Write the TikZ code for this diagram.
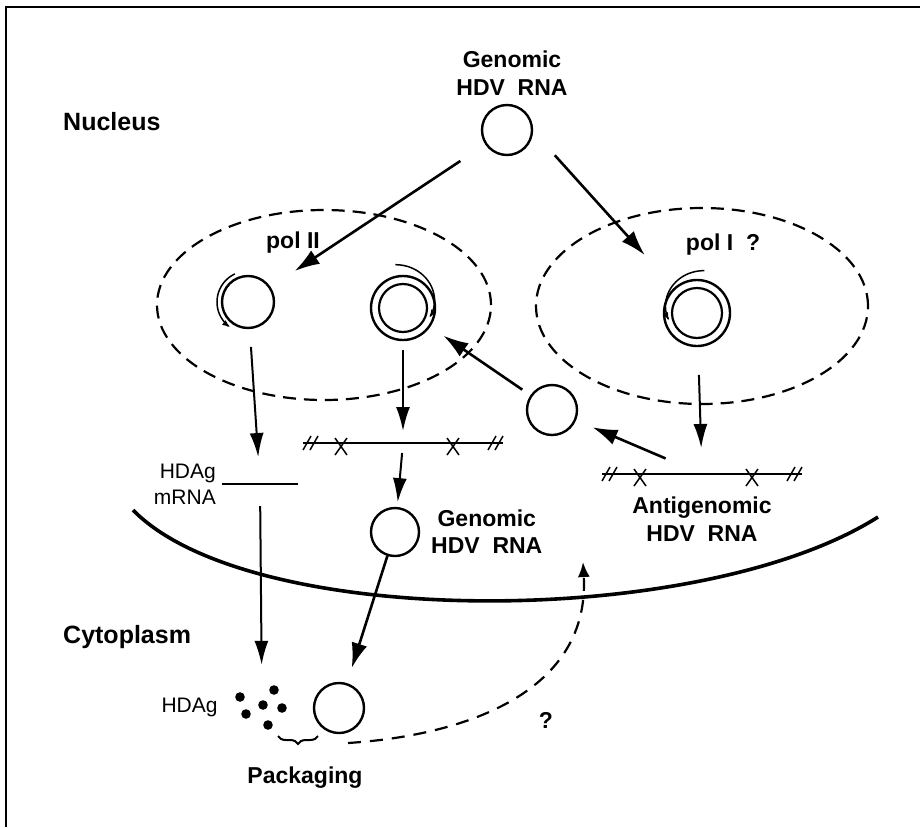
\documentclass[tikz,border=0pt]{standalone}
\usepackage{fontspec}
\setmainfont{Liberation Sans}
\usetikzlibrary{arrows.meta,positioning,calc,shapes.geometric,decorations.pathreplacing}
\tikzset{
 rna/.style={draw, circle, line width=2.4pt, minimum size=#1, inner sep=0pt, outer sep=0pt},
 rna/.default=50pt,
 zone/.style={draw, ellipse, line width=2.2pt, dash pattern=on 13pt off 8pt, inner sep=0pt},
 lbl/.style={font=\fontsize{23}{28}\selectfont\bfseries, align=center, inner sep=0pt},
 thinlbl/.style={font=\fontsize{21}{26}\selectfont, align=right, inner sep=0pt},
 region/.style={font=\fontsize{25}{30}\selectfont\bfseries, anchor=west, inner sep=0pt},
 linear/.style={minimum width=200pt, minimum height=2pt, inner sep=0pt, outer sep=0pt},
 strand/.style={line width=1.5pt},
 arrow/.style={-{Latex[length=25pt,width=16pt]}, line width=2.6pt},
 thinarrow/.style={-{Latex[length=24pt,width=14pt]}, line width=2pt},
 spin/.style={-{Latex[length=8pt,width=6pt]}, line width=1.5pt},
 membrane/.style={line width=3.6pt},
 backarrow/.style={-{Latex[length=15pt,width=12pt]}, line width=2.2pt, dash pattern=on 13pt off 9pt}
}
\newcommand{\rnamarks}[1]{%
 \draw[strand] (#1.west) -- (#1.east);
 \foreach \d in {4,11,189,196}
  \draw[strand] ($(#1.west)+(\d,0)$) +(-4,7) -- +(4,-7);
 \foreach \d in {38,150}
  \draw[strand] ($(#1.west)+(\d,0)$) +(-6,-5) -- +(6,12) +(6,-5) -- +(-6,12);
}

\begin{document}
\begin{tikzpicture}[x=1pt,y=-1pt]
\useasboundingbox (0,0) rectangle (920,827);
\draw[line width=1.8pt] (6,827) -- (6,7) -- (920,7);

\node[region] (nuc) at (63,122) {Nucleus};
\node[region] (cyto) at (63,637) {Cytoplasm};

\node[rna] (top) at (507,130) {};
\node[lbl, above=9pt of top, xshift=5pt] (toplbl) {Genomic\\HDV\ \ RNA};

\node[zone, minimum width=334pt, minimum height=190pt] (pol2) at (324,305) {};
\node[zone, minimum width=332pt, minimum height=196pt] (pol1) at (702,306) {};
\node[lbl] (pol2lbl) at (293,243) {pol\ II};
\node[lbl] (pol1lbl) at (723,245) {pol\ I\ \ ?};

\node[rna=52pt] (lcirc) at (248,302) {};
\draw[spin, shift={(lcirc)}] plot[domain=115:235, samples=30] ({31*cos(\x)}, {-31*sin(\x)});

\node[rna=64pt] (mcirc) at (403,308) {};
\draw[line width=2.2pt] (mcirc) circle (24pt);
\draw[spin, shift={(mcirc)}] plot[domain=100:-20, samples=40]
 ({(28+(\x+20)*0.133)*cos(\x)}, {-(28+(\x+20)*0.133)*sin(\x)});

\node[rna=66pt] (pcirc) at (697,313) {};
\draw[line width=2.2pt] (pcirc) circle (25pt);
\draw[spin, shift={(pcirc)}] plot[domain=80:195, samples=40]
 ({(43-(\x-80)*0.122)*cos(\x)}, {-(43-(\x-80)*0.122)*sin(\x)});

\node[rna] (scirc) at (552,410) {};

\node[linear] (glin) at (403,443) {};
\rnamarks{glin}
\node[linear] (alin) at (702,474) {};
\rnamarks{alin}
\node[lbl, below=22pt of alin] (alinlbl) {Antigenomic\\HDV\ \ RNA};

\node[minimum width=76pt, minimum height=2pt, inner sep=0pt, outer sep=0pt] (mline) at (260,484) {};
\draw[strand] (mline.west) -- (mline.east);
\node[thinlbl, left=6pt of mline] (mlbl) {HDAg\\mRNA};

\node[rna=48pt] (gcirc) at (395,532) {};
\node[lbl, right=12pt of gcirc, font=\fontsize{23}{27}\selectfont\bfseries] (glbl) {Genomic\\HDV\ \ RNA};

\draw[membrane] (133,510) .. controls (250,630) and (700,630) .. (878,517);

\node[rna] (pkg) at (339,708) {};
\node[minimum width=50pt, minimum height=40pt, inner sep=0pt] (dots) at (262,707) {};
\foreach \a/\b in {240/697, 274/690, 263/705, 282/708, 246/714, 268/725}
 \fill (\a,\b) circle (4.8pt);
\node[thinlbl, left=19pt of dots] (hdag) {HDAg};
\draw[decorate, decoration={brace, amplitude=8pt}, line width=2pt] (318,736) -- (278,736);
\node[lbl] (pack) at (305,778) {Packaging};
\node[lbl] (qmark) at (546,720) {?};

\draw[arrow, shorten <=31pt, shorten >=30pt] (top) -- (lcirc);
\draw[arrow, shorten <=34pt, shorten >=45pt] (top.east) -- (pcirc);
\draw[thinarrow, shorten <=19pt, shorten >=26pt] (lcirc) -- (mline);
\draw[thinarrow, shorten <=21pt, shorten >=22pt] (mline) -- (dots);
\draw[thinarrow, shorten <=10pt, shorten >=11pt] (mcirc) -- (glin);
\draw[thinarrow, shorten <=9pt, shorten >=6pt] (glin) -- (gcirc);
\draw[arrow, shorten <=11pt, shorten >=17pt] (scirc) -- (mcirc);
\draw[arrow, shorten <=37pt, shorten >=19pt] (alin) -- (scirc);
\draw[thinarrow, shorten <=29pt, shorten >=25pt] (pcirc) -- (alin);
\draw[arrow, shorten <=1pt, shorten >=17pt] (gcirc) -- (pkg);

\coordinate (qa) at (348,743);
\coordinate (qb) at (583,562);
\draw[backarrow] (qa) .. controls (470,735) and (590,690) .. (qb);
\end{tikzpicture}
\end{document}
